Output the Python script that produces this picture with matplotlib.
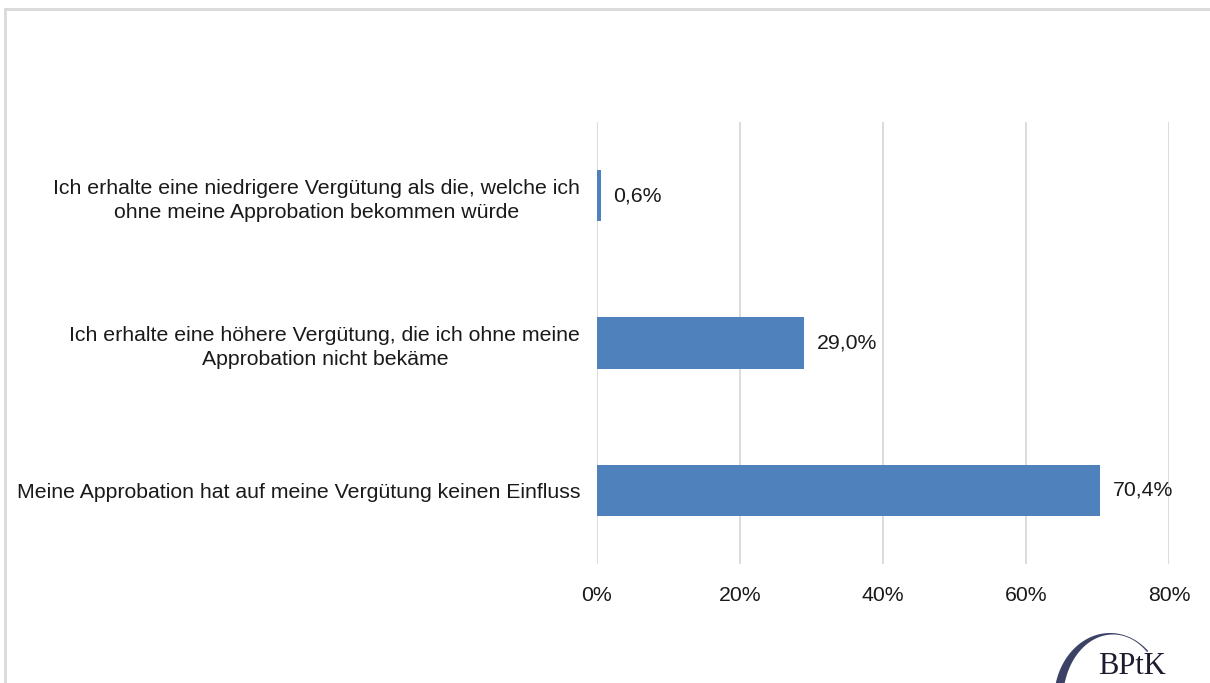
import numpy as np
import matplotlib.pyplot as plt
from matplotlib.lines import Line2D

# answers (bottom to top as drawn)
labels = [
    "Meine Approbation hat auf meine Vergütung keinen Einfluss",
    "Ich erhalte eine höhere Vergütung, die ich ohne meine\nApprobation nicht bekäme",
    "Ich erhalte eine niedrigere Vergütung als die, welche ich\nohne meine Approbation bekommen würde",
]
values = [70.4, 29.0, 0.6]
xticks = [0, 20, 40, 60, 80]

plt.rcParams['font.family'] = ['Liberation Sans', 'DejaVu Sans']
FS = 15.3

fig = plt.figure(figsize=(12.10, 6.83), dpi=100)
W, H = 1210, 683
ax = fig.add_axes([597 / W, 1 - 564 / H, (1169 - 597) / W, (564 - 122) / H])

ypos = range(len(values))
ax.barh(ypos, values, height=0.35, color='#4f81bd', zorder=3)
for y, v in zip(ypos, values):
    ax.text(v + 1.7, y, f"{v:.1f}%".replace('.', ','), va='center', ha='left',
            fontsize=FS, color='#1a1a1a')

ax.set_xlim(0, 80)
ax.set_ylim(-0.5, 2.5)
ax.set_xticks(xticks)
ax.set_xticklabels([f"{t}%" for t in xticks], fontsize=FS, color='#1a1a1a')
ax.set_yticks(list(ypos))
ax.set_yticklabels(labels, fontsize=FS, color='#1a1a1a', ha='right',
                   multialignment='center', linespacing=1.35)
ax.tick_params(axis='y', length=0, pad=12)
ax.tick_params(axis='x', length=0, pad=16)
ax.grid(axis='x', color='#d9d9d9', linewidth=1.3, zorder=0)
for s in ax.spines.values():
    s.set_visible(False)

# outer frame (top and left edge)
fig.add_artist(Line2D([5 / W, 5 / W], [0, 1 - 9 / H], transform=fig.transFigure,
                      color='#d9d9d9', linewidth=2))
fig.add_artist(Line2D([5 / W, 1], [1 - 9 / H, 1 - 9 / H], transform=fig.transFigure,
                      color='#d9d9d9', linewidth=2))

# logo (pixel coords, y measured upward from bottom edge)
lax = fig.add_axes([1040 / W, 0, 170 / W, 63 / H])
lax.set_xlim(1040, 1210)
lax.set_ylim(0, 63)
lax.axis('off')
t = np.radians(np.linspace(47, 185, 120))
ox, oy = 1110 + 56 * np.cos(t), -17 + 67 * np.sin(t)
ix, iy = 1113 + 50 * np.cos(t[::-1]), -17 + 65.5 * np.sin(t[::-1])
lax.fill(np.r_[ox, ix], np.r_[oy, iy], color='#3b4266', lw=0)
lax.text(1132, 17, "BPtK", family='Liberation Serif', fontsize=22,
         color='#1c1c2e', ha='center', va='center')

fig.savefig('out.png', dpi=100)
